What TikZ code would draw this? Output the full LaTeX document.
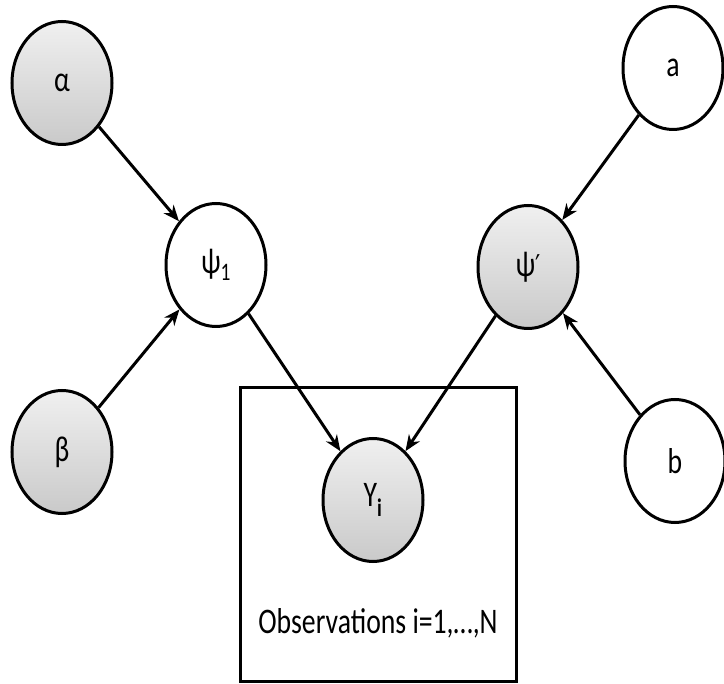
\documentclass[tikz,border=0pt]{standalone}
\usepackage{fontspec}
\setmainfont{Carlito}[FakeStretch=0.77]
\newfontfamily\primefont{DejaVu Sans}[FakeStretch=0.77]
\usetikzlibrary{arrows.meta, shapes.geometric}

\begin{document}
\begin{tikzpicture}[x=1pt, y=-1pt, every node/.style={font=\fontsize{36}{40}\selectfont},
    var/.style={draw, ellipse, line width=3pt, minimum width=100pt, minimum height=123pt, inner sep=0pt},
    obsvar/.style={var, top color=gray!12, bottom color=gray!42},
    edge/.style={-{Stealth[length=16pt, width=13pt]}, line width=3pt}]
    \useasboundingbox (0,0) rectangle (724,684);

    \node[obsvar] (alpha) at (62,83) {α};
    \node[var] (a) at (673,68) {a};
    \node[var] (psi1) at (216,265) {ψ\textsubscript{1}};
    \node[obsvar] (psiprime) at (528,267) {ψ{\primefont\fontsize{30}{36}\selectfont ′}};
    \node[obsvar] (beta) at (62,452) {β};
    \node[var] (b) at (675,461) {b};
    \node[draw, line width=3pt, inner sep=0pt, minimum width=276pt, minimum height=294pt] (plate) at (378,535) {};
    \node[obsvar] (y) at (373,500) {Y\textsubscript{\textbf{i}}};
    \node (obs) at (378,623) {Observations i=1,…,N};

    \draw[edge] (alpha) -- (psi1);
    \draw[edge] (beta) -- (psi1);
    \draw[edge] (psi1) -- (y);
    \draw[edge] (a) -- (psiprime);
    \draw[edge] (b) -- (psiprime);
    \draw[edge] (psiprime) -- (y);
\end{tikzpicture}
\end{document}
